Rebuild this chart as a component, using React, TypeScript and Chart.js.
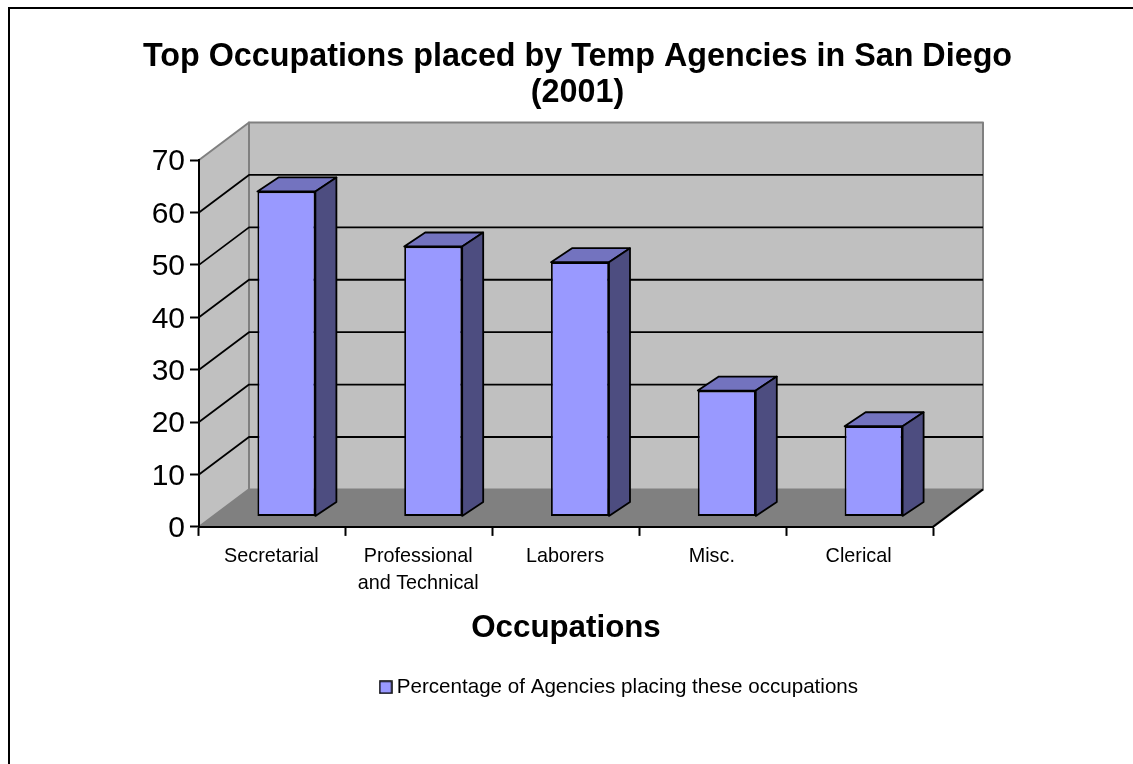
import React, { useEffect, useRef } from "react";
import { Chart, registerables } from "chart.js";

Chart.register(...registerables);

const categories = ["Secretarial", ["Professional", "and Technical"], "Laborers", "Misc.", "Clerical"];
const seriesLabel = "Percentage of Agencies placing these occupations";
const seriesValues = [62, 51.5, 48.5, 24, 17.2];
const titleLines = ["Top Occupations placed by Temp Agencies in San Diego", "(2001)"];
const xAxisTitle = "Occupations";

const FONT = "'Liberation Sans', Arial, sans-serif";
const WALL_DX = 50;
const WALL_DY = 37.5;
const BAR_TX = 14;
const BAR_TY = 10.5;
const BAR_DX = 21;
const BAR_DY = 14;

const poly = (ctx: any, pts: number[][], fill: string | null, stroke: string | null, lw = 2) => {
  ctx.beginPath();
  pts.forEach((p, i) => (i ? ctx.lineTo(p[0], p[1]) : ctx.moveTo(p[0], p[1])));
  ctx.closePath();
  if (fill) {
    ctx.fillStyle = fill;
    ctx.fill();
  }
  if (stroke) {
    ctx.strokeStyle = stroke;
    ctx.lineWidth = lw;
    ctx.lineJoin = "round";
    ctx.stroke();
  }
};

const line = (ctx: any, pts: number[][], stroke: string, lw = 2) => {
  ctx.beginPath();
  pts.forEach((p, i) => (i ? ctx.lineTo(p[0], p[1]) : ctx.moveTo(p[0], p[1])));
  ctx.strokeStyle = stroke;
  ctx.lineWidth = lw;
  ctx.lineJoin = "round";
  ctx.stroke();
};

const scenePlugin = {
  id: "scene3d",
  beforeDraw(chart: any) {
    const { ctx, chartArea: a, scales } = chart;
    ctx.save();
    ctx.fillStyle = "#ffffff";
    ctx.fillRect(0, 0, chart.width, chart.height);
    ctx.strokeStyle = "#000";
    ctx.lineWidth = 2;
    ctx.strokeRect(9, 8, chart.width + 50, chart.height + 50);
    const { left: l, right: r, top: t, bottom: b } = a;
    const dx = WALL_DX;
    const dy = WALL_DY;
    poly(ctx, [[l, b], [r, b], [r + dx, b - dy], [l + dx, b - dy]], "#808080", null);
    poly(ctx, [[l + dx, t - dy], [r + dx, t - dy], [r + dx, b - dy], [l + dx, b - dy]], "#C0C0C0", "#808080", 2);
    poly(ctx, [[l, t], [l + dx, t - dy], [l + dx, b - dy], [l, b]], "#C0C0C0", "#808080", 2);
    line(ctx, [[r, b], [r + dx, b - dy]], "#000", 2);
    scales.y.ticks.forEach((tk: any) => {
      if (tk.value === 0 || tk.value === scales.y.max) return;
      const y = scales.y.getPixelForValue(tk.value);
      line(ctx, [[l, y], [l + dx, y - dy], [r + dx, y - dy]], "#000", 1.8);
    });
    ctx.restore();
  },
  beforeDatasetDraw(chart: any, args: any) {
    const { ctx } = chart;
    ctx.save();
    ctx.translate(BAR_TX, -BAR_TY);
    args.meta.data.forEach((el: any) => {
      const x1 = el.x - el.width / 2;
      const x2 = el.x + el.width / 2;
      const yT = el.y;
      const yB = el.base;
      poly(ctx, [[x1, yT], [x2, yT], [x2 + BAR_DX, yT - BAR_DY], [x1 + BAR_DX, yT - BAR_DY]], "#7373BF", "#000", 1.8);
      poly(ctx, [[x2, yT], [x2 + BAR_DX, yT - BAR_DY], [x2 + BAR_DX, yB - BAR_DY], [x2, yB]], "#4D4D80", "#000", 1.8);
    });
  },
  afterDatasetDraw(chart: any) {
    chart.ctx.restore();
  },
  afterLayout(chart: any) {
    const lg = chart.legend;
    if (lg) {
      const shift = 155;
      const h = lg.bottom - lg.top;
      lg.left += shift;
      lg.right += shift;
      lg.top = 667;
      lg.bottom = 667 + h;
    }
    const tb = chart.titleBlock;
    if (tb) {
      tb.left += 111;
      tb.right += 111;
    }
  },
};

export default function App() {
  const ref = useRef<HTMLCanvasElement | null>(null);

  useEffect(() => {
    document.body.style.margin = "0";
    document.body.style.background = "#fff";
    const swatch = document.createElement("canvas");
    swatch.width = 14;
    swatch.height = 14;
    const sc = swatch.getContext("2d") as CanvasRenderingContext2D;
    sc.fillStyle = "#9999FF";
    sc.fillRect(1, 1, 12, 12);
    sc.strokeStyle = "#000";
    sc.lineWidth = 1.5;
    sc.strokeRect(1, 1, 12, 12);

    const chart = new Chart(ref.current as HTMLCanvasElement, {
      type: "bar",
      data: {
        labels: categories as any,
        datasets: [
          {
            label: seriesLabel,
            data: seriesValues,
            backgroundColor: "#9999FF",
            borderColor: "#000000",
            borderWidth: 1.8,
            borderSkipped: false,
            barPercentage: 0.395,
            categoryPercentage: 1,
            clip: false,
          } as any,
        ],
      },
      options: {
        responsive: false,
        animation: false,
        layout: { padding: { left: 0, right: 222, top: 0, bottom: 76.5 } },
        plugins: {
          tooltip: { enabled: false },
          title: {
            display: true,
            text: titleLines,
            color: "#000",
            font: { family: FONT, size: 32.3, weight: "bold", lineHeight: 1.115 },
            padding: { top: 39, bottom: 49 },
          },
          legend: {
            display: true,
            position: "bottom",
            labels: {
              color: "#000",
              usePointStyle: true,
              pointStyle: swatch,
              pointStyleWidth: 1.5,
              boxHeight: 12,
              padding: 10,
              font: { family: FONT, size: 20.6 },
            },
          },
        },
        scales: {
          x: {
            offset: true,
            grid: { offset: true, drawOnChartArea: false, drawTicks: true, tickLength: 9, tickColor: "#000", tickWidth: 2 },
            border: { display: true, color: "#000", width: 2 },
            ticks: {
              color: "#000",
              font: { family: FONT, size: 19.8, lineHeight: 1.4 },
              padding: 6.5,
              labelOffset: -1,
              maxRotation: 0,
              autoSkip: false,
            },
            title: {
              display: true,
              text: xAxisTitle,
              color: "#000",
              font: { family: FONT, size: 31.3, weight: "bold" },
              padding: { top: 2.5, bottom: 0 },
            },
            afterFit(s: any) {
              s.height = 120;
            },
          },
          y: {
            min: 0,
            max: 70,
            grid: { drawOnChartArea: false, drawTicks: true, tickLength: 9, tickColor: "#000", tickWidth: 2 },
            border: { display: true, color: "#000", width: 2 },
            ticks: {
              stepSize: 10,
              color: "#000",
              font: { family: FONT, size: 30 },
              padding: 5,
              labelOffset: 2,
            },
            afterFit(s: any) {
              s.width = 199;
            },
          },
        },
      },
      plugins: [scenePlugin],
    } as any);
    return () => chart.destroy();
  }, []);

  return (
    <div style={{ position: "fixed", left: 0, top: 0, width: 1133, height: 764, overflow: "hidden", background: "#fff" }}>
      <canvas ref={ref} width={1155} height={764} style={{ display: "block" }} />
    </div>
  );
}
